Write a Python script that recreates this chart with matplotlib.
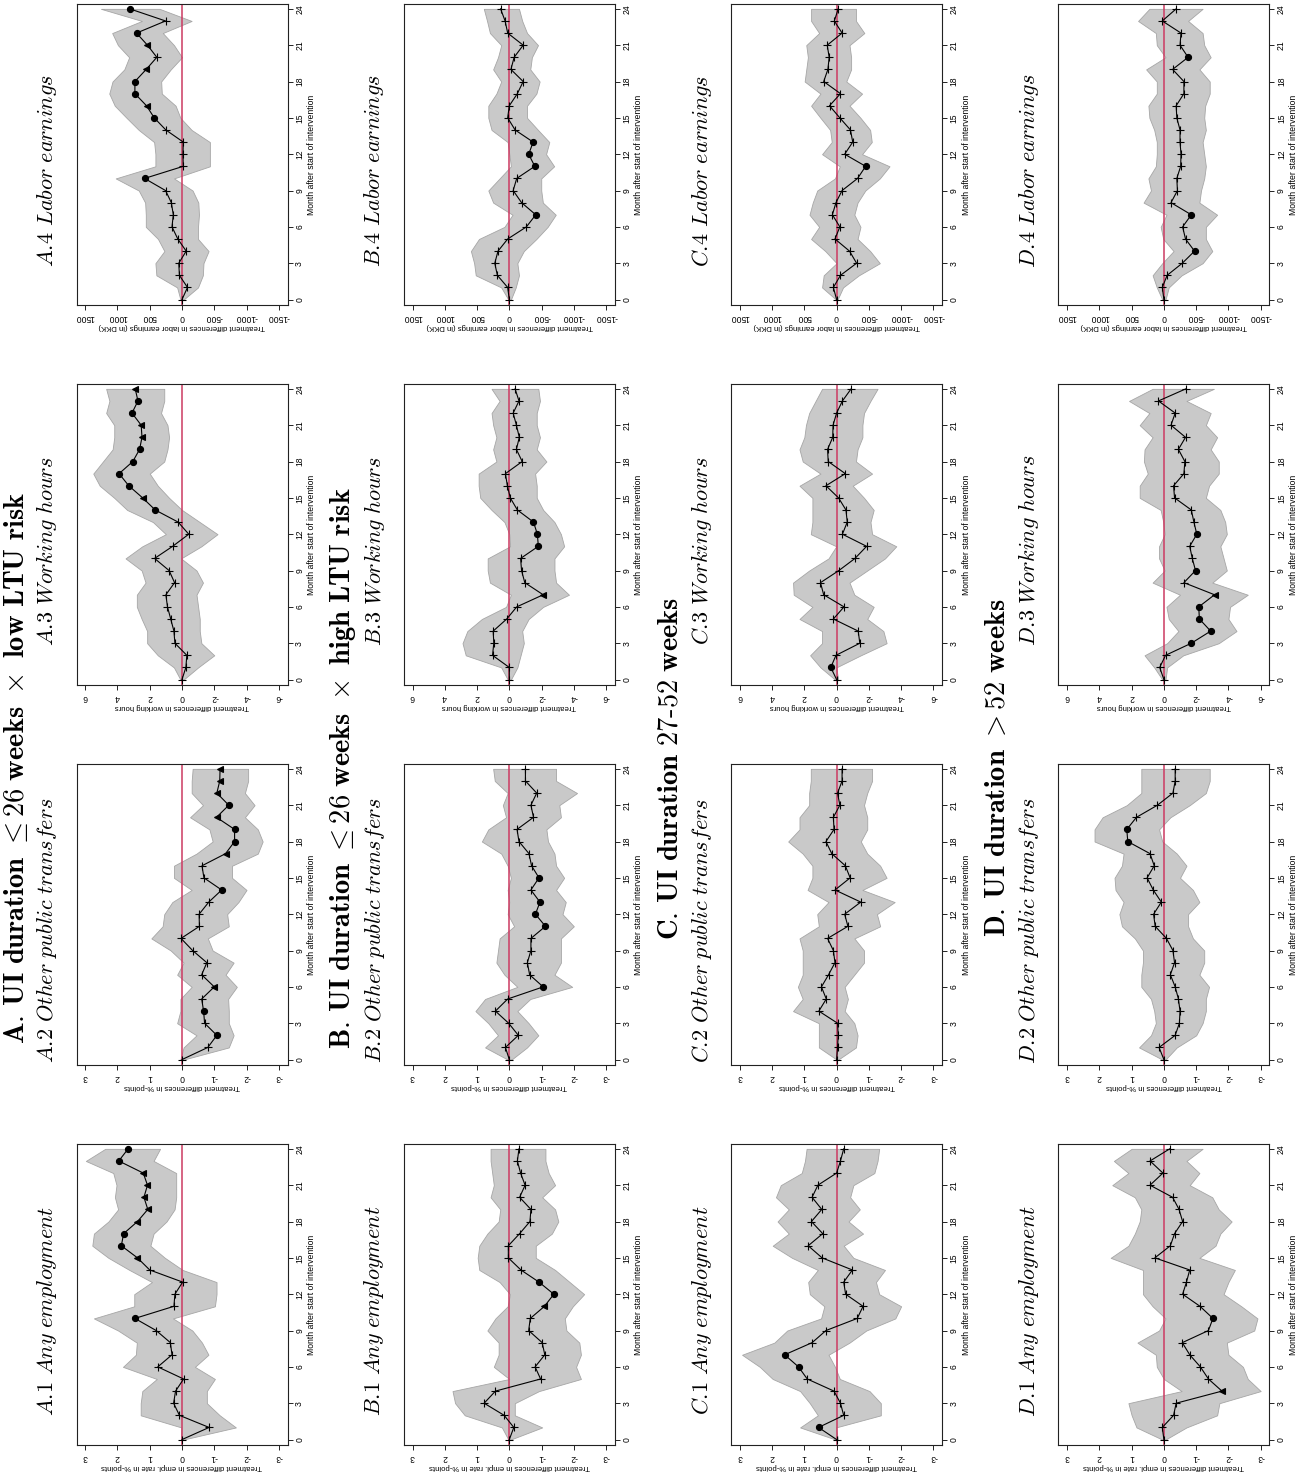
import matplotlib
matplotlib.use("Agg")
import matplotlib.pyplot as plt

plt.rcParams["mathtext.fontset"] = "cm"
plt.rcParams["axes.unicode_minus"] = False
plt.rcParams["font.family"] = ["Liberation Sans Narrow", "Liberation Sans", "DejaVu Sans"]

months = list(range(25))

# point estimates (est), confidence band (lo/hi) and significance (0 none, 1 = 10%, 2 = 5%)
a1_est = [0, -0.84, 0.08, 0.26, 0.2, -0.05, 0.75, 0.31, 0.36, 0.8, 1.46, 0.25, 0.22, -0.02, 1.0, 1.38, 1.88, 1.81, 1.38, 1.06, 1.18, 1.07, 1.2, 1.96, 1.67]
a1_hi = [0.03, 0.02, 1.28, 1.28, 1.23, 0.78, 1.83, 1.43, 1.4, 1.98, 2.73, 1.48, 1.48, 0.93, 1.63, 2.28, 2.78, 2.73, 2.28, 1.98, 2.08, 2.03, 2.13, 2.98, 2.38]
a1_lo = [-0.04, -1.67, -1.17, -0.77, -0.77, -1.02, -0.4, -0.82, -0.62, -0.32, 0.28, -1.02, -1.07, -1.07, -0.02, 0.53, 0.98, 0.88, 0.48, 0.23, 0.18, 0.18, 0.18, 0.88, 0.68]
a1_sig = [0, 0, 0, 0, 0, 0, 0, 0, 0, 0, 2, 0, 0, 0, 0, 1, 2, 2, 1, 1, 1, 1, 1, 2, 2]

a2_est = [0, -0.8, -1.08, -0.7, -0.67, -0.61, -1.0, -0.61, -0.77, -0.33, 0.03, -0.54, -0.53, -0.83, -1.23, -0.68, -0.62, -1.35, -1.63, -1.63, -1.07, -1.45, -1.08, -1.17, -1.18]
a2_hi = [0.05, -0.05, -0.45, 0.15, 0.05, 0.05, -0.3, 0.15, -0.05, 0.35, 0.95, 0.6, 0.55, 0.3, -0.3, 0.25, 0.25, -0.45, -0.95, -0.85, -0.25, -0.65, -0.3, -0.3, -0.33]
a2_lo = [-0.05, -1.45, -1.6, -1.45, -1.45, -1.43, -1.7, -1.35, -1.6, -0.95, -0.8, -1.45, -1.4, -1.75, -2.0, -1.55, -1.55, -2.35, -2.5, -2.35, -1.95, -2.25, -1.95, -2.05, -2.05]
a2_sig = [0, 0, 2, 0, 2, 0, 1, 0, 0, 0, 0, 0, 0, 0, 2, 0, 0, 1, 2, 2, 1, 2, 1, 1, 1]

a3_est = [0, -0.24, -0.3, 0.44, 0.5, 0.7, 0.9, 1.0, 0.46, 0.8, 1.7, 0.58, -0.42, 0.24, 1.66, 2.44, 3.3, 3.9, 3.05, 2.63, 2.48, 2.53, 3.1, 2.73, 2.9]
a3_hi = [0.1, 0.5, 1.5, 2.16, 2.16, 2.5, 2.8, 2.8, 2.26, 2.5, 3.5, 2.46, 1.0, 1.8, 3.4, 4.2, 5.1, 5.5, 4.9, 4.3, 4.2, 4.2, 4.7, 4.5, 4.7]
a3_lo = [-0.1, -1.0, -2.0, -1.2, -1.1, -1.1, -1.0, -0.9, -1.3, -0.9, 0.06, -1.2, -2.2, -1.1, 0.0, 0.8, 1.5, 2.0, 1.1, 0.9, 0.8, 0.9, 1.3, 1.1, 1.1]
a3_sig = [0, 0, 0, 0, 0, 0, 0, 0, 0, 0, 0, 0, 0, 0, 2, 1, 2, 2, 2, 2, 1, 1, 2, 2, 1]

a4_est = [0, -85, 40, 50, -65, 65, 155, 135, 165, 255, 580, -20, -15, -20, 250, 430, 550, 730, 730, 555, 390, 535, 705, 255, 810]
a4_hi = [25, 75, 397, 412, 273, 372, 561, 561, 571, 670, 1027, 412, 412, 432, 670, 859, 1042, 1127, 1077, 894, 819, 993, 1082, 621, 1255]
a4_lo = [-25, -248, -323, -333, -412, -248, -248, -263, -253, -164, 124, -432, -432, -432, -149, 25, 99, 313, 323, 174, 0, 124, 298, -149, 348]
a4_sig = [0, 0, 0, 0, 0, 0, 0, 0, 0, 0, 2, 0, 0, 0, 0, 2, 1, 2, 2, 1, 0, 1, 2, 0, 2]

b1_est = [0, -0.14, 0.16, 0.78, 0.43, -0.97, -0.8, -1.1, -1.02, -0.6, -0.65, -1.09, -1.38, -0.92, -0.36, 0.03, 0.03, -0.32, -0.64, -0.67, -0.32, -0.49, -0.35, -0.25, -0.3]
b1_hi = [0.03, 0.23, 1.38, 1.68, 1.76, 0.0, 0.48, 0.33, 0.33, 0.68, 0.43, 0.05, -0.02, 0.3, 0.93, 0.98, 0.93, 0.68, 0.33, 0.28, 0.58, 0.48, 0.53, 0.58, 0.58]
b1_lo = [-0.04, -1.02, -0.17, -0.17, -0.92, -2.22, -2.07, -2.22, -2.17, -1.77, -1.72, -1.97, -2.32, -1.87, -1.42, -0.82, -0.82, -1.32, -1.52, -1.42, -1.02, -1.42, -1.22, -1.12, -1.12]
b1_sig = [0, 0, 0, 0, 0, 0, 0, 0, 0, 0, 0, 1, 2, 2, 0, 0, 0, 0, 0, 0, 0, 0, 0, 0, 0]

b2_est = [0, 0.12, -0.28, 0.02, 0.43, 0.05, -1.05, -0.63, -0.56, -0.67, -0.67, -1.12, -0.81, -0.95, -0.67, -0.92, -0.69, -0.61, -0.3, -0.24, -0.75, -0.67, -0.85, -0.5, -0.5]
b2_hi = [0.05, 0.75, 0.35, 0.65, 1.05, 0.75, -0.25, 0.15, 0.4, 0.35, 0.3, -0.15, 0.05, 0.0, 0.05, -0.05, 0.05, 0.25, 0.85, 0.65, 0.1, 0.2, 0.05, 0.45, 0.5]
b2_lo = [-0.07, -0.55, -0.9, -0.6, -0.25, -0.65, -1.95, -1.4, -1.6, -1.6, -1.6, -2.0, -1.65, -1.75, -1.45, -1.7, -1.45, -1.4, -1.2, -1.15, -1.6, -1.55, -2.1, -1.45, -1.45]
b2_sig = [0, 0, 0, 0, 0, 0, 2, 0, 0, 0, 0, 2, 2, 2, 0, 2, 0, 0, 0, 0, 0, 0, 0, 0, 0]

b3_est = [0, 0, 1.04, 0.96, 1.0, 0.16, -0.46, -2.1, -0.96, -0.76, -0.7, -1.8, -1.74, -1.5, -0.5, -0.06, 0.12, 0.24, -0.8, -0.44, -0.62, -0.44, -0.24, -0.6, -0.36]
b3_hi = [0.1, 0.5, 2.7, 2.9, 2.6, 1.7, 0.2, -0.1, 1.2, 1.34, 1.34, -0.05, 0.0, 0.3, 1.1, 1.8, 1.9, 1.9, 0.8, 1.0, 0.8, 1.0, 1.1, 0.6, 1.1]
b3_lo = [-0.1, -0.5, -0.7, -0.9, -0.8, -1.2, -2.1, -3.7, -2.9, -2.8, -2.8, -3.4, -3.2, -2.8, -2.1, -1.7, -1.7, -1.6, -2.3, -1.7, -1.9, -1.7, -1.7, -1.9, -1.8]
b3_sig = [0, 0, 0, 0, 0, 0, 0, 1, 0, 0, 0, 2, 2, 2, 0, 0, 0, 0, 0, 0, 0, 0, 0, 0, 0]

b4_est = [0, 25, 185, 225, 175, 25, -265, -410, -190, -60, -115, -395, -300, -370, -90, 25, 0, -125, -215, -25, -75, -215, 25, 65, 135]
b4_hi = [15, 125, 520, 545, 595, 470, 75, -50, 250, 325, 150, -25, 0, 25, 275, 325, 325, 200, 125, 250, 175, 125, 300, 345, 395]
b4_lo = [-25, -100, -150, -125, -225, -420, -595, -720, -520, -495, -495, -695, -570, -620, -445, -275, -275, -420, -470, -325, -350, -445, -275, -200, -150]
b4_sig = [0, 0, 0, 0, 0, 0, 0, 2, 0, 0, 0, 2, 2, 2, 0, 0, 0, 0, 0, 0, 0, 0, 0, 0, 0]

c1_est = [0, 0.56, -0.22, -0.12, 0.08, 0.91, 1.18, 1.61, 0.76, 0.33, -0.64, -0.82, -0.28, -0.22, -0.49, 0.45, 0.88, 0.43, 0.78, 0.46, 0.76, 0.58, 0.0, -0.12, -0.22]
c1_hi = [0.03, 1.13, 0.58, 0.83, 1.13, 1.98, 2.38, 2.93, 1.93, 1.53, 0.48, 0.38, 0.83, 0.88, 0.58, 1.38, 1.98, 1.48, 1.83, 1.48, 1.88, 1.73, 1.08, 0.98, 0.93]
c1_lo = [-0.04, 0.02, -1.37, -1.37, -1.02, -0.1, 0.05, 0.25, -0.4, -0.92, -1.82, -2.0, -1.32, -1.22, -1.5, -0.52, -0.22, -0.82, -0.37, -0.72, -0.42, -0.52, -1.17, -1.27, -1.32]
c1_sig = [0, 2, 0, 0, 0, 0, 2, 2, 0, 0, 0, 0, 0, 0, 0, 0, 0, 0, 0, 0, 0, 0, 0, 0, 0]

c2_est = [0, -0.03, -0.05, -0.03, 0.55, 0.32, 0.47, 0.25, 0.05, 0.1, 0.28, -0.35, -0.25, -0.75, 0.05, -0.42, -0.27, 0.15, 0.33, 0.08, 0.1, -0.1, -0.03, -0.17, -0.17]
c2_hi = [0.0, 0.55, 0.55, 0.55, 1.35, 1.05, 1.2, 1.05, 1.05, 1.05, 1.15, 0.55, 0.6, 0.25, 0.9, 0.75, 0.75, 1.05, 1.5, 1.15, 1.15, 0.85, 0.85, 0.8, 0.8]
c2_lo = [-0.05, -0.6, -0.65, -0.55, -0.25, -0.35, -0.25, -0.55, -0.85, -0.85, -0.55, -1.35, -1.25, -1.8, -0.8, -1.55, -1.35, -0.95, -0.75, -0.95, -0.95, -0.85, -0.95, -1.1, -1.1]
c2_sig = [0] * 25

c3_est = [0, 0.36, 0.04, -1.44, -1.34, 0.2, -0.46, 0.8, 1.0, -0.14, -1.14, -1.86, -0.36, -0.66, -0.58, -0.12, 0.66, -0.54, 0.52, 0.56, 0.24, 0.22, 0.0, -0.36, -0.9]
c3_hi = [0.1, 1.0, 1.64, 0.9, 0.9, 2.3, 1.5, 2.66, 2.7, 1.7, 0.5, 0.02, 1.6, 1.5, 1.5, 1.5, 2.3, 1.0, 2.1, 2.3, 2.0, 1.9, 1.7, 1.3, 0.9]
c3_lo = [-0.1, 0.02, -1.5, -3.1, -2.9, -1.9, -2.3, -1.1, -0.8, -1.9, -3.0, -3.7, -2.2, -2.1, -2.3, -1.7, -1.0, -2.2, -1.2, -1.3, -1.6, -1.6, -1.7, -2.1, -2.54]
c3_sig = [0, 2, 0, 0, 0, 0, 0, 0, 0, 0, 0, 0, 0, 0, 0, 0, 0, 0, 0, 0, 0, 0, 0, 0, 0]

c4_est = [0, 50, -60, -310, -200, 25, -50, 65, 10, -85, -325, -450, -125, -250, -215, -50, 110, -60, 200, 135, 115, 145, -85, 35, -25]
c4_hi = [10, 225, 200, 0, 175, 395, 270, 420, 370, 300, 25, -50, 225, 75, 100, 250, 395, 250, 495, 470, 445, 470, 270, 395, 395]
c4_lo = [-15, -100, -345, -670, -520, -325, -370, -275, -325, -445, -670, -820, -395, -545, -520, -370, -200, -395, -150, -225, -225, -200, -430, -300, -300]
c4_sig = [0, 0, 0, 0, 0, 0, 0, 0, 0, 0, 0, 2, 0, 0, 0, 0, 0, 0, 0, 0, 0, 0, 0, 0, 0]

d1_est = [0, 0.05, -0.3, -0.38, -1.8, -1.38, -1.13, -0.8, -0.57, -1.38, -1.52, -1.12, -0.58, -0.7, -0.8, 0.28, -0.2, -0.33, -0.58, -0.47, -0.27, 0.43, 0.03, 0.43, -0.18]
d1_hi = [0.05, 0.85, 1.0, 1.1, -0.55, 0.0, 0.22, 0.25, 0.82, 0.15, -0.05, 0.35, 0.65, 0.65, 0.65, 1.65, 1.1, 0.9, 0.75, 0.7, 0.9, 1.6, 1.1, 1.55, 1.0]
d1_lo = [-0.05, -0.7, -1.65, -1.72, -3.0, -2.6, -2.45, -2.0, -1.95, -2.8, -2.9, -2.4, -1.85, -2.0, -2.2, -1.1, -1.6, -1.75, -2.1, -1.7, -1.5, -0.8, -1.1, -0.7, -1.2]
d1_sig = [0, 0, 0, 0, 1, 0, 0, 0, 0, 0, 2, 0, 0, 0, 0, 0, 0, 0, 0, 0, 0, 0, 0, 0, 0]

d2_est = [0, 0.15, -0.35, -0.48, -0.5, -0.45, -0.35, -0.2, -0.33, -0.28, -0.08, 0.27, 0.32, 0.08, 0.33, 0.52, 0.3, 0.43, 1.12, 1.15, 0.85, 0.2, -0.28, -0.35, -0.35]
d2_hi = [0.05, 0.77, 0.4, 0.25, 0.3, 0.4, 0.7, 0.7, 0.65, 0.65, 0.9, 1.3, 1.38, 1.25, 1.5, 1.53, 1.3, 1.25, 2.15, 2.15, 1.9, 1.15, 0.7, 0.7, 0.7]
d2_lo = [-0.05, -0.4, -1.0, -1.2, -1.3, -1.3, -1.4, -1.1, -1.25, -1.25, -0.9, -0.75, -0.75, -1.1, -0.9, -0.5, -0.7, -0.4, 0.05, 0.15, -0.2, -0.8, -1.3, -1.42, -1.42]
d2_sig = [0, 0, 0, 0, 0, 0, 0, 0, 0, 0, 0, 0, 0, 0, 0, 0, 0, 0, 2, 2, 0, 0, 0, 0, 0]

d3_est = [0, 0.26, -0.1, -1.7, -2.9, -2.2, -2.16, -3.14, -1.24, -1.96, -1.76, -1.6, -2.04, -1.86, -1.7, -0.66, -0.6, -1.24, -1.3, -0.9, -1.34, -0.44, -0.7, 0.34, -1.36]
d3_hi = [0.1, 0.6, 1.2, -0.2, -0.9, -0.3, -0.16, -1.0, 0.7, -0.05, 0.3, 0.3, -0.05, 0.04, 0.2, 1.5, 1.5, 1.0, 1.24, 1.2, 0.7, 1.5, 0.9, 2.16, 0.7]
d3_lo = [-0.1, -0.2, -1.2, -3.4, -4.5, -4.0, -4.1, -5.2, -3.0, -3.9, -3.7, -3.5, -3.9, -3.8, -3.5, -2.6, -2.8, -3.4, -3.4, -2.9, -3.3, -2.6, -2.9, -1.4, -3.1]
d3_sig = [0, 0, 0, 2, 2, 2, 2, 1, 0, 2, 0, 0, 2, 0, 0, 0, 0, 0, 0, 0, 0, 0, 0, 0, 0]

d4_est = [0, 25, -50, -285, -475, -335, -290, -425, -110, -210, -200, -260, -265, -250, -250, -200, -190, -310, -310, -135, -375, -250, -265, 25, -190]
d4_hi = [25, 110, 175, 25, -150, 10, 50, -40, 315, 200, 240, 125, 110, 110, 150, 225, 240, 110, 110, 275, -25, 110, 125, 400, 225]
d4_lo = [-25, -75, -275, -600, -750, -650, -650, -825, -550, -575, -625, -650, -625, -600, -650, -625, -640, -710, -710, -550, -725, -625, -600, -375, -600]
d4_sig = [0, 0, 0, 0, 2, 0, 0, 2, 0, 0, 0, 0, 0, 0, 0, 0, 0, 0, 0, 0, 2, 0, 0, 0, 0]

groups = ["A", "B", "C", "D"]
group_titles = [
    r"$\mathbf{A.\!\ UI\ duration\ }{\leq}\mathbf{26\ weeks\ }\times\mathbf{\ low\ LTU\ risk}$",
    r"$\mathbf{B.\!\ UI\ duration\ }{\leq}\mathbf{26\ weeks\ }\times\mathbf{\ high\ LTU\ risk}$",
    r"$\mathbf{C.\!\ UI\ duration\ 27\text{-}52\ weeks}$",
    r"$\mathbf{D.\!\ UI\ duration\ }{>}\mathbf{52\ weeks}$",
]
outcomes = ["Any employment", "Other public transfers", "Working hours", "Labor earnings"]
value_labels = [
    "Treatment differences in empl. rate in %-points",
    "Treatment differences in %-points",
    "Treatment differences in working hours",
    "Treatment differences in labor earnings (in DKK)",
]
value_ticks = [
    [3, 2, 1, 0, -1, -2, -3],
    [3, 2, 1, 0, -1, -2, -3],
    [6, 4, 2, 0, -2, -4, -6],
    [1500, 1000, 500, 0, -500, -1000, -1500],
]
month_ticks = [0, 3, 6, 9, 12, 15, 18, 21, 24]

series = {
    ("A", 1): (a1_est, a1_lo, a1_hi, a1_sig), ("A", 2): (a2_est, a2_lo, a2_hi, a2_sig),
    ("A", 3): (a3_est, a3_lo, a3_hi, a3_sig), ("A", 4): (a4_est, a4_lo, a4_hi, a4_sig),
    ("B", 1): (b1_est, b1_lo, b1_hi, b1_sig), ("B", 2): (b2_est, b2_lo, b2_hi, b2_sig),
    ("B", 3): (b3_est, b3_lo, b3_hi, b3_sig), ("B", 4): (b4_est, b4_lo, b4_hi, b4_sig),
    ("C", 1): (c1_est, c1_lo, c1_hi, c1_sig), ("C", 2): (c2_est, c2_lo, c2_hi, c2_sig),
    ("C", 3): (c3_est, c3_lo, c3_hi, c3_sig), ("C", 4): (c4_est, c4_lo, c4_hi, c4_sig),
    ("D", 1): (d1_est, d1_lo, d1_hi, d1_sig), ("D", 2): (d2_est, d2_lo, d2_hi, d2_sig),
    ("D", 3): (d3_est, d3_lo, d3_hi, d3_sig), ("D", 4): (d4_est, d4_lo, d4_hi, d4_sig),
}

W, H = 1304, 1476
fig = plt.figure(figsize=(W / 100, H / 100), dpi=100)

# page is laid out sideways: months run bottom-to-top, values right-to-left
frame_w, frame_h = 211, 301
row_step, col_step = 327.3, 380


def px_rect(left, top, w, h):
    return [left / W, 1 - (top + h) / H, w / W, h / H]


for g, grp in enumerate(groups):
    xc = 182 + row_step * g
    fig.text((16 + row_step * g) / W, 1 - 768 / H, group_titles[g],
             rotation=90, ha="center", va="center", fontsize=20.5)
    for k in range(1, 5):
        top = 4 + col_step * (4 - k)
        ax = fig.add_axes(px_rect(xc - frame_w / 2, top, frame_w, frame_h))
        est, lo, hi, sig = series[(grp, k)]
        ticks = value_ticks[k - 1]
        lim = ticks[0] * 1.09

        ax.fill_betweenx(months, lo, hi, facecolor="#c9c9c9",
                         edgecolor="#a6a6a6", lw=0.6, zorder=1)
        ax.axvline(0, color="#cc3a62", lw=1.1, zorder=2)
        ax.plot(est, months, color="black", lw=0.8, zorder=3)
        for level, mk, ms in [(0, "+", 5.5), (1, "<", 4.0), (2, "o", 4.4)]:
            xs = [v for v, s in zip(est, sig) if s == level]
            ys = [m for m, s in zip(months, sig) if s == level]
            ax.plot(xs, ys, ls="none", marker=mk, ms=ms, mew=0.8,
                    color="black", zorder=4)

        ax.set_xlim(lim, -lim)
        ax.set_ylim(-0.45, 24.4)
        ax.set_xticks(ticks)
        ax.set_xticklabels([str(t) for t in ticks], rotation=180)
        ax.set_yticks(month_ticks)
        ax.set_yticklabels([str(t) for t in month_ticks], rotation=90, va="center")
        ax.yaxis.tick_right()
        ax.yaxis.set_label_position("right")
        ax.tick_params(direction="out", length=3.5, width=0.6, labelsize=6.2, pad=2)
        ax.set_xlabel(value_labels[k - 1], rotation=180, fontsize=5.6, labelpad=1,
                      family=["Liberation Sans", "DejaVu Sans"])
        ax.set_ylabel("Month after start of intervention", rotation=90,
                      fontsize=6.2, labelpad=2)
        for sp in ax.spines.values():
            sp.set_linewidth(0.8)
            sp.set_color("#222222")

        fig.text((47 + row_step * g) / W, 1 - (top + frame_h / 2 + 16) / H,
                 r"$\mathit{%s.\!%d\ %s}$" % (grp, k, outcomes[k - 1].replace(" ", r"\ ")),
                 rotation=90, ha="center", va="center", fontsize=16)

fig.savefig("out.png", dpi=100, facecolor="white")
